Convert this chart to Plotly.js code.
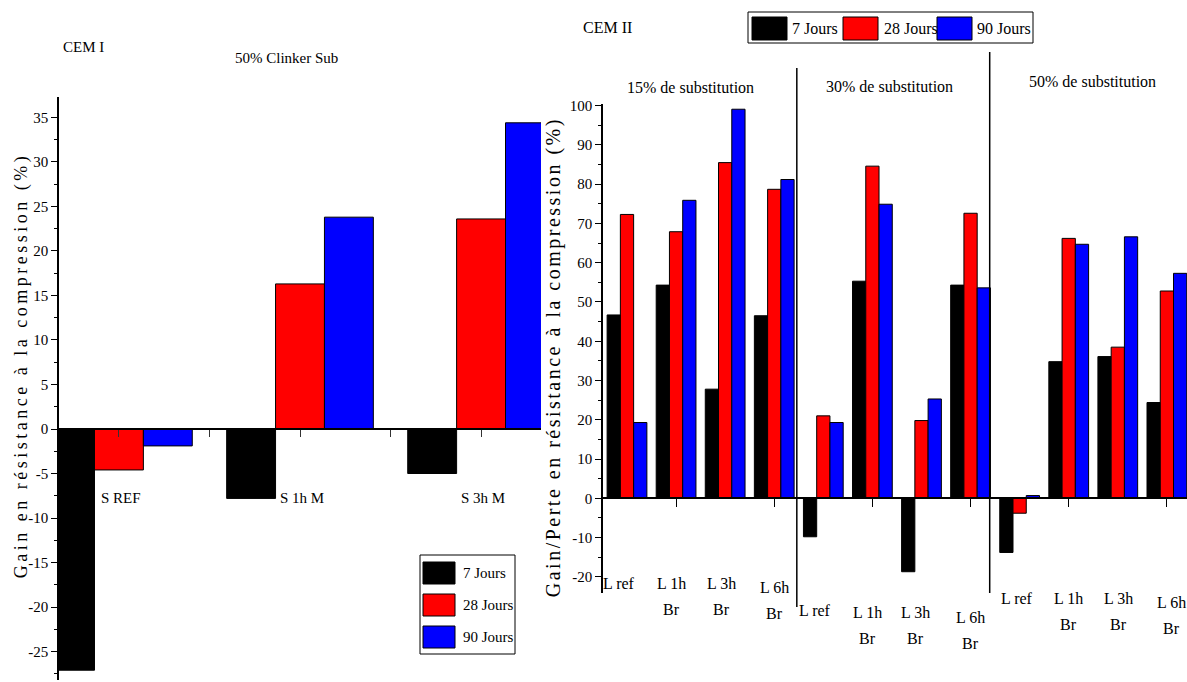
<!DOCTYPE html>
<html>
<head>
<meta charset="utf-8">
<script src="https://cdn.plot.ly/plotly-3.0.1.min.js"></script>
<style>
html,body{margin:0;padding:0;background:#fff;}
#chart{width:1187px;height:682px;}
g.annotation[data-index="0"] text{letter-spacing:3.5px;}
g.annotation[data-index="1"] text{letter-spacing:2.5px;}
</style>
</head>
<body>
<div id="chart"></div>
<script>
// ---------------- data ----------------
const seriesNames = ['7 Jours', '28 Jours', '90 Jours'];
const seriesColors = ['#000000', '#ff0000', '#0000ff'];

// CEM I - 50% Clinker Sub
const cem1Categories = ['S REF', 'S 1h M', 'S 3h M'];
const cem1Day7  = [-27.1, -7.8, -5.0];
const cem1Day28 = [-4.6, 16.3, 23.6];
const cem1Day90 = [-1.9, 23.8, 34.4];

// CEM II - three substitution levels, four treatments each
const cem2Panels = ['15% de substitution', '30% de substitution', '50% de substitution'];
const cem2Treatments = [['L ref'], ['L 1h', 'Br'], ['L 3h', 'Br'], ['L 6h', 'Br']];
const cem2Day7  = [46.7, 54.3, 27.8, 46.5,  -9.8, 55.3, -18.7, 54.3,  -13.8, 34.8, 36.1, 24.4];
const cem2Day28 = [72.3, 67.9, 85.5, 78.7,  21.0, 84.6,  19.8, 72.6,   -3.8, 66.2, 38.5, 52.8];
const cem2Day90 = [19.3, 75.9, 99.1, 81.2,  19.3, 74.9,  25.3, 53.6,    0.7, 64.7, 66.6, 57.3];

// tick values of the two value axes
const cem1Ticks = [-25, -20, -15, -10, -5, 0, 5, 10, 15, 20, 25, 30, 35];
const cem2Ticks = [-20, -10, 0, 10, 20, 30, 40, 50, 60, 70, 80, 90, 100];

const yTitleLeft = 'Gain en résistance à la compression (%)';
const yTitleRight = 'Gain/Perte en résistance à la compression (%)';

// ---------------- layout helpers ----------------
const W = 1187, H = 682;
const px = x => x / W;
const py = y => 1 - y / H;
const FONT = 'Liberation Serif, Times New Roman, serif';

const cem1Vals = [cem1Day7, cem1Day28, cem1Day90];
const cem2Vals = [cem2Day7, cem2Day28, cem2Day90];
const cem1X = cem1Categories.map((_, i) => i);
const cem2X = cem2Day7.map((_, i) => i);

const traces = [];
seriesNames.forEach((name, s) => {
  traces.push({
    type: 'bar', name: name, x: cem1X, y: cem1Vals[s], xaxis: 'x', yaxis: 'y',
    marker: {color: seriesColors[s], line: {color: '#000', width: 1}},
    showlegend: false, hovertemplate: '%{y}<extra>' + name + '</extra>'
  });
  traces.push({
    type: 'bar', name: name, x: cem2X, y: cem2Vals[s], xaxis: 'x2', yaxis: 'y2',
    marker: {color: seriesColors[s], line: {color: '#000', width: 1}},
    showlegend: false, hovertemplate: '%{y}<extra>' + name + '</extra>'
  });
});

const annotations = [];
const shapes = [];
function label(t, x, y, size, extra) {
  annotations.push(Object.assign({
    text: t, xref: 'paper', yref: 'paper', x: px(x), y: py(y),
    showarrow: false, xanchor: 'center', yanchor: 'middle',
    font: {family: FONT, size: size, color: '#000'}
  }, extra || {}));
}

// axis titles (index 0 and 1 -> letter spacing via CSS)
label(yTitleLeft, 21, 366, 18, {textangle: -90});
label(yTitleRight, 553, 357, 20, {textangle: -90});

// titles
label('CEM I', 83, 47, 15);
label('50% Clinker Sub', 286, 58, 15);
label('CEM II', 608, 28, 16);
const panelHeaderPos = [[690, 87], [889, 86], [1092, 81]];
cem2Panels.forEach((p, i) => label(p, panelHeaderPos[i][0], panelHeaderPos[i][1], 16));

// CEM I category labels
cem1Categories.forEach((c, i) => {
  annotations.push({
    text: c, xref: 'x', yref: 'paper', x: i, y: py(498), xshift: 2,
    showarrow: false, xanchor: 'center', yanchor: 'middle',
    font: {family: FONT, size: 15, color: '#000'}
  });
});

// CEM II category labels (two lines)
const catLine1Y = [583, 583, 583, 587, 610, 612, 612, 617, 598, 598, 598, 602];
const catDx = [-8, -5, -4, 0, -8, -5, -6, 0, -3, 0, 1, 5];
cem2X.forEach(i => {
  const lines = cem2Treatments[i % cem2Treatments.length];
  lines.forEach((ln, k) => {
    annotations.push({
      text: ln, xref: 'x2', yref: 'paper', x: i, y: py(catLine1Y[i] + 26 * k),
      xshift: catDx[i], showarrow: false, xanchor: 'center', yanchor: 'middle',
      font: {family: FONT, size: 16, color: '#000'}
    });
  });
});

// panel dividers
shapes.push({type: 'line', xref: 'x2', yref: 'paper', x0: 3.46, x1: 3.46, y0: py(607), y1: py(68), line: {color: '#000', width: 1.5}});
shapes.push({type: 'line', xref: 'x2', yref: 'paper', x0: 7.39, x1: 7.39, y0: py(593), y1: py(52), line: {color: '#000', width: 1.5}});

// left legend (vertical)
shapes.push({type: 'rect', xref: 'paper', yref: 'paper', x0: px(420), x1: px(515), y0: py(654), y1: py(555), line: {color: '#000', width: 1}, fillcolor: 'rgba(0,0,0,0)'});
const leftRows = [562, 594, 626];
seriesNames.forEach((n, s) => {
  shapes.push({type: 'rect', xref: 'paper', yref: 'paper', x0: px(423), x1: px(455), y0: py(leftRows[s] + 22), y1: py(leftRows[s]), line: {color: '#000', width: 1}, fillcolor: seriesColors[s]});
  label(n, 461, leftRows[s] + 11, 15, {xanchor: 'left'});
});

// right legend (horizontal)
shapes.push({type: 'rect', xref: 'paper', yref: 'paper', x0: px(748), x1: px(1033), y0: py(43), y1: py(12), line: {color: '#000', width: 1}, fillcolor: 'rgba(0,0,0,0)'});
const rightSw = [752, 843, 937];
const rightTx = [790, 882, 975];
seriesNames.forEach((n, s) => {
  shapes.push({type: 'rect', xref: 'paper', yref: 'paper', x0: px(rightSw[s]), x1: px(rightSw[s] + 35), y0: py(40), y1: py(17), line: {color: '#000', width: 1}, fillcolor: seriesColors[s]});
  label(n, rightTx[s], 29, 16, {xanchor: 'left'});
});

const tickFont = {family: FONT, size: 15, color: '#000'};

const layout = {
  width: W, height: H, autosize: false,
  margin: {l: 0, r: 0, t: 0, b: 0, pad: 0},
  paper_bgcolor: '#fff', plot_bgcolor: 'rgba(0,0,0,0)',
  font: {family: FONT, color: '#000'},
  barmode: 'group', bargap: 0.19, bargroupgap: 0,
  showlegend: false,
  xaxis: {
    domain: [px(59), px(541)], range: [-0.331, 2.331], anchor: 'free', position: py(429),
    showline: true, linecolor: '#000', linewidth: 1.5, zeroline: false, showgrid: false,
    ticks: 'outside', tickmode: 'linear', tick0: 0, dtick: 0.5, ticklen: 7, tickwidth: 1, tickcolor: '#333',
    showticklabels: false, fixedrange: true
  },
  yaxis: {
    domain: [py(680), py(97)], range: [-28.2, 37.3], anchor: 'x',
    showline: true, linecolor: '#000', linewidth: 1.5, zeroline: false, showgrid: false,
    ticks: 'outside', tickmode: 'array', tickvals: cem1Ticks, ticktext: cem1Ticks.map(String),
    ticklen: 6, tickwidth: 1.2, tickcolor: '#000',
    minor: {ticks: 'outside', tickmode: 'linear', tick0: 0, dtick: 2.5, ticklen: 3, tickwidth: 1, tickcolor: '#000', showgrid: false},
    tickfont: tickFont, fixedrange: true
  },
  xaxis2: {
    domain: [px(603), 1], range: [-0.489, 11.41], anchor: 'free', position: py(498.3),
    showline: true, linecolor: '#000', linewidth: 1.5, zeroline: false, showgrid: false,
    ticks: 'outside', tickmode: 'linear', tick0: 1, dtick: 2, ticklen: 8, tickwidth: 1, tickcolor: '#000',
    showticklabels: false, fixedrange: true
  },
  yaxis2: {
    domain: [py(593), py(104)], range: [-24.12, 100.43], anchor: 'x2',
    showline: true, linecolor: '#000', linewidth: 1.5, zeroline: false, showgrid: false,
    ticks: 'outside', tickmode: 'array', tickvals: cem2Ticks, ticktext: cem2Ticks.map(String),
    ticklen: 6, tickwidth: 1.2, tickcolor: '#000',
    minor: {ticks: 'outside', tickmode: 'linear', tick0: 0, dtick: 5, ticklen: 3, tickwidth: 1, tickcolor: '#000', showgrid: false},
    tickfont: tickFont, fixedrange: true
  },
  annotations: annotations,
  shapes: shapes
};

Plotly.newPlot('chart', traces, layout, {displayModeBar: false, staticPlot: false});
</script>
</body>
</html>
